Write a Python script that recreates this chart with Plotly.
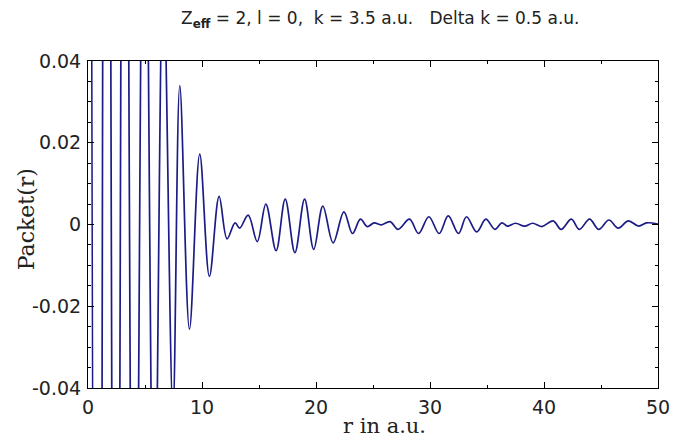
import plotly.graph_objects as go

# extrema of the wave packet (r in a.u., Packet(r))
r_points = [0.0, 0.9, 1.6, 2.45, 3.2, 4.05, 4.95, 5.8, 6.6, 7.45,
            8.05, 8.9, 9.8, 10.65, 11.5, 12.2, 12.9, 13.3, 14.05, 14.85,
            15.6, 16.5, 17.3, 18.15, 19.0, 19.8, 20.6, 21.5, 22.45, 23.2,
            23.9, 24.5, 25.1, 25.7, 26.5, 27.2, 28.2, 29.0, 29.9, 30.8,
            31.6, 32.5, 33.2, 34.1, 34.9, 35.7, 36.3, 36.8, 37.5, 38.3,
            39.0, 39.8, 40.8, 41.5, 42.4, 43.1, 44.0, 44.8, 45.7, 46.5,
            47.4, 48.3, 49.0, 50.0]
packet_values = [0.45, -0.38, 0.32, -0.26, 0.21, -0.16, 0.12, -0.088, 0.064, -0.046,
                 0.034, -0.0256, 0.0172, -0.0127, 0.0069, -0.0035, 0.0004, -0.0009, 0.0023, -0.0042,
                 0.0050, -0.0064, 0.0062, -0.0069, 0.0062, -0.0061, 0.0045, -0.0045, 0.0031, -0.0022,
                 0.0013, -0.0005, 0.0004, -0.0001, 0.0007, -0.0012, 0.0013, -0.0022, 0.0019, -0.0022,
                 0.0021, -0.0022, 0.0019, -0.0018, 0.0013, -0.0012, 0.0004, -0.0004, 0.0003, -0.0004,
                 0.0003, -0.0005, 0.0009, -0.0012, 0.0013, -0.0012, 0.0013, -0.0012, 0.0011, -0.0009,
                 0.0009, -0.0004, 0.0004, 0.0001]

x_ticks = [0, 10, 20, 30, 40, 50]
y_ticks = [-0.04, -0.02, 0, 0.02, 0.04]
y_tick_labels = ["-0.04", "-0.02", "0", "0.02", "0.04"]

title_text = "Z<sub><b>eff</b></sub> = 2, l = 0,&nbsp; k = 3.5 a.u.&nbsp;&nbsp; Delta k = 0.5 a.u."
x_title = "r in a.u."
y_title = "Packet(r)"

fig = go.Figure()
fig.add_trace(go.Scatter(
    x=r_points, y=packet_values, mode="lines",
    line=dict(color="#1c1c86", width=1.7, shape="spline", smoothing=1.0),
    showlegend=False, hoverinfo="skip"))

tick_font = dict(family="DejaVu Sans", size=19, color="#222222")
axis_common = dict(showline=True, linecolor="black", linewidth=1, mirror="allticks",
                   ticks="inside", ticklen=6, tickcolor="black", tickwidth=1,
                   showgrid=False, zeroline=False, tickfont=tick_font)

fig.update_xaxes(range=[0, 50], tickvals=x_ticks,
                 minor=dict(dtick=5, tick0=0, ticks="inside", ticklen=3, tickcolor="black"),
                 ticklabelstandoff=2, ticklabeloverflow="allow",
                 **axis_common)
fig.update_yaxes(range=[-0.04, 0.04], tickvals=y_ticks, ticktext=y_tick_labels,
                 minor=dict(dtick=0.005, tick0=0, ticks="inside", ticklen=3, tickcolor="black"),
                 ticklabelstandoff=2, ticklabeloverflow="allow",
                 **axis_common)

fig.add_annotation(text=title_text, xref="paper", yref="paper", x=0.512, y=1.128,
                   xanchor="center", yanchor="middle", showarrow=False,
                   font=dict(family="DejaVu Sans", size=17, color="#222"))
fig.add_annotation(text=x_title, xref="paper", yref="paper", x=0.52, y=-0.157,
                   xanchor="center", yanchor="bottom", showarrow=False, borderpad=0,
                   font=dict(family="DejaVu Serif", size=21, color="#222"))
fig.add_annotation(text=y_title, xref="paper", yref="paper", x=-0.1065, y=0.517,
                   xanchor="center", yanchor="middle", showarrow=False, textangle=-90,
                   font=dict(family="DejaVu Serif", size=22, color="#222"))

fig.update_layout(width=682, height=440, margin=dict(l=88, r=12, t=61, b=52),
                  paper_bgcolor="white", plot_bgcolor="white")

fig.write_html("out.html")
